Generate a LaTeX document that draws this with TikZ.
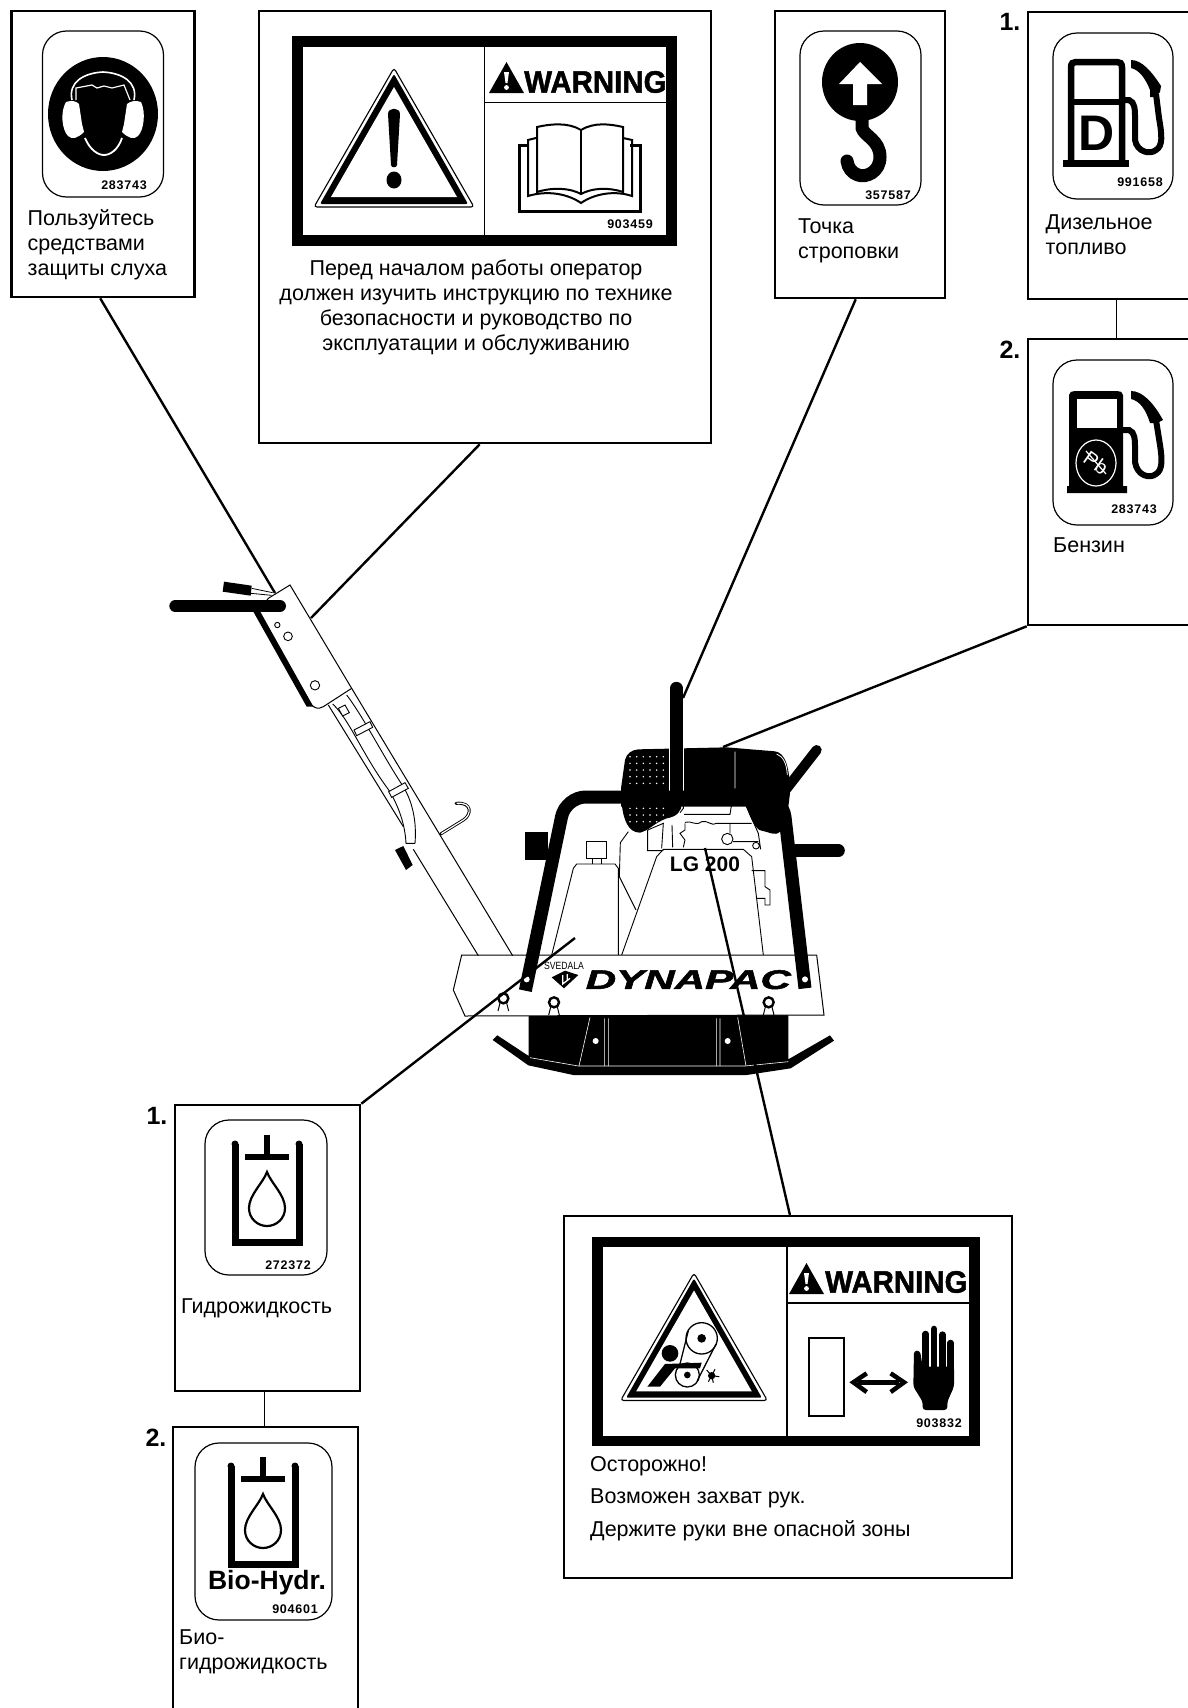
\documentclass[tikz,border=0pt]{standalone}
\usepackage{fontspec}
\setmainfont{Liberation Sans}
\newfontfamily\tagfont[LetterSpace=6]{Liberation Sans}
\newfontfamily\heavyfont[UprightFont=* Bold,ItalicFont=* Bold Italic,FakeBold=1.6]{Liberation Sans}
\usetikzlibrary{calc,positioning}
\tikzstyle{plate}=[draw,fill=white,line width=2.6pt,minimum size=10pt]
\tikzstyle{tagplate}=[draw,fill=white,line width=1.2pt,rounded corners=24pt]
\tikzstyle{warnframe}=[draw,fill=white,line width=11pt]
\tikzstyle{caption}=[inner sep=0pt,anchor=west,align=left,font=\fontsize{21.5}{25}\selectfont]
\tikzstyle{tagno}=[inner sep=0pt,font=\fontsize{12.5}{12.5}\selectfont\tagfont\bfseries]
\tikzstyle{mark no}=[inner sep=0pt,font=\fontsize{25}{25}\selectfont\bfseries]
\tikzstyle{warnword}=[inner sep=0pt,anchor=west,font=\fontsize{31}{31}\selectfont\heavyfont]
\tikzstyle{leader}=[line width=2.4pt]
\tikzstyle{tieline}=[line width=1.5pt]
\tikzstyle{thinline}=[line width=.9pt]

\begin{document}
\begin{tikzpicture}[x=1pt,y=-1pt,line join=miter]
\useasboundingbox (0,0) rectangle (1188,1708);

% plates
\node [plate,minimum width=183,minimum height=286] (hearing) at (103,154) {};
\node [plate,minimum width=452,minimum height=432] (manual) at (485,227) {};
\node [plate,minimum width=170,minimum height=287] (lifting) at (860,154.5) {};
\node [plate,minimum width=192,minimum height=287] (diesel) at (1124,155.5) {};
\node [plate,minimum width=192,minimum height=286] (petrol) at (1124,482) {};
\node [plate,minimum width=185,minimum height=286] (hydro) at (267.5,1248) {};
\node [plate,minimum width=185,minimum height=333] (biohydro) at (265.5,1593.5) {};
\node [plate,line width=2.2pt,minimum width=448,minimum height=362] (grip) at (788,1397) {};

% small labels
\node [tagplate,minimum width=121,minimum height=166] (hearingtag) at (103,114) {};
\node [tagplate,minimum width=121,minimum height=174] (liftingtag) at (860.5,118) {};
\node [tagplate,minimum width=120,minimum height=166] (dieseltag) at (1113,116) {};
\node [tagplate,minimum width=120,minimum height=165] (petroltag) at (1113,442.5) {};
\node [tagplate,minimum width=122,minimum height=155] (hydrotag) at (266,1197.5) {};
\node [tagplate,minimum width=137,minimum height=177] (biohydrotag) at (263.5,1531.5) {};

\node [tagno] (hearingno) at (124,185) {283743};
\node [tagno] (liftingno) at (888,195) {357587};
\node [tagno] (dieselno) at (1140,182) {991658};
\node [tagno] (petrolno) at (1134,509) {283743};
\node [tagno] (hydrono) at (288,1265) {272372};
\node [tagno] (biohydrono) at (295,1609.5) {904601};

% ear defenders
\fill (103,114) ellipse [x radius=55,y radius=57];
\fill [white] (66,102) .. controls (72,100) and (76,101) .. (79,104) -- (82,124) -- (84,132) .. controls (78,138) and (72,140) .. (68,136) .. controls (62,130) and (60,112) .. (66,102) -- cycle;
\fill [white] (141,102) .. controls (135,100) and (131,101) .. (127,104) -- (124,124) -- (122,132) .. controls (128,138) and (134,140) .. (138,136) .. controls (144,130) and (146,112) .. (141,102) -- cycle;
\draw [white,line width=1.6pt] (72,100) .. controls (68,82) and (84,73) .. (103,72) .. controls (122,73) and (138,82) .. (134,100);
\draw [white,line width=1.2pt] (76,100) -- (76,88) -- (92,85) -- (97,88) -- (104,86) -- (112,88) -- (124,85) -- (130,100);
\draw [white,line width=1.8pt] (85,138) .. controls (90,150) and (98,155) .. (104,155) .. controls (110,155) and (118,150) .. (122,138);

% lifting point
\fill (860,82) ellipse [x radius=38,y radius=39];
\fill [white] (860,62) -- (882,84) -- (867,84) -- (867,105) -- (853,105) -- (853,84) -- (839,84) -- cycle;
\draw [line width=13pt,line cap=round] (862,118) -- (862,128) .. controls (864,136) and (880,140) .. (880,157) .. controls (880,172) and (866,178) .. (858,175) .. controls (852,173) and (848,168) .. (847,161);

% diesel pump
\draw [line width=6.5pt] (1071,164) -- (1071,68) .. controls (1071,63) and (1073,62) .. (1076,62) -- (1117,62) .. controls (1120,62) and (1122,63) .. (1122,68) -- (1122,164);
\draw [line width=6pt] (1071,102) -- (1122,102);
\fill (1063,160) rectangle (1129,167);
\node [inner sep=0pt,font=\fontsize{50}{50}\selectfont\bfseries] (dieselsign) at (1097,133) {D};
\draw [line width=6pt] (1122,100) -- (1129,100) .. controls (1135,102) and (1135,110) .. (1135,118) -- (1135,140) .. controls (1137,152) and (1150,155) .. (1156,150) .. controls (1163,146) and (1162,135) .. (1159,118) -- (1156,94);
\fill (1131,60) .. controls (1142,60) and (1152,72) .. (1161,86) -- (1160,92) -- (1155,97) -- (1150,97) -- (1150,90) .. controls (1146,80) and (1140,70) .. (1131,68) -- cycle;

% petrol pump
\fill (1069,395) .. controls (1069,392) and (1072,391) .. (1075,391) -- (1117,391) .. controls (1120,391) and (1123,392) .. (1123,395) -- (1123,486) -- (1127,486) -- (1127,493) -- (1067,493) -- (1067,486) -- (1069,486) -- cycle;
\fill [white] (1077,399) rectangle (1117,428);
\draw [white,line width=1.2pt] (1096,463) ellipse [x radius=20,y radius=23];
\node [white,inner sep=0pt,rotate=-35,font=\fontsize{20}{20}\selectfont] (petrolsign) at (1096,463) {Pb};
\draw [white,line width=1.2pt] (1086,451) -- (1106,474);
\draw [line width=6pt] (1122,430) -- (1129,430) .. controls (1135,432) and (1135,440) .. (1135,448) -- (1135,462) .. controls (1137,476) and (1150,479) .. (1156,474) .. controls (1163,470) and (1162,458) .. (1160,445) -- (1156,420);
\fill (1131,391) .. controls (1142,391) and (1153,402) .. (1163,420) -- (1157,423) -- (1150,423) .. controls (1146,410) and (1140,401) .. (1131,399) -- cycle;

% hydraulic oil
\foreach \sx/\sy in {267/1135,263/1457}{
  \begin{scope}[shift={(\sx,\sy)}]
    \draw [line width=7pt] (-32,9) -- (-32,107) -- (32,107) -- (32,9);
    \fill (-32,9) circle [radius=3.5] (32,9) circle [radius=3.5];
    \draw [line width=6.5pt] (0,0) -- (0,22) (-22,22) -- (22,22);
    \draw [line width=2.2pt] (0,37) .. controls (4,48) and (18,60) .. (18,73) .. controls (18,84) and (9,91) .. (0,91) .. controls (-9,91) and (-18,84) .. (-18,73) .. controls (-18,60) and (-4,48) .. (0,37) -- cycle;
  \end{scope}
}
\node [inner sep=0pt,font=\fontsize{26.5}{26.5}\selectfont\bfseries] (biohydrosign) at (267,1583) {Bio-Hydr.};

% warning labels
\node [warnframe,minimum width=374,minimum height=199] (bookframe) at (484.5,141) {};
\node [warnframe,line width=10.5pt,minimum width=377,minimum height=199] (beltframe) at (786,1341.5) {};
\draw [thinline] (484.5,47) -- (484.5,235) (484.5,102) -- (667,102);
\draw [line width=1.2pt] (787,1247) -- (787,1436) (787,1303) -- (969,1303);
\foreach \sx/\sy/\sc in {394/68/1,694/1273/.917}{
  \begin{scope}[shift={(\sx,\sy)},scale=\sc]
    \draw [line width=1.1pt,rounded corners=3pt] (0,0) -- (-80,139) -- (80,139) -- cycle;
    \fill [rounded corners=2pt] (0,6) -- (-74,136) -- (74,136) -- cycle;
    \fill [white] (0,19) -- (-63,129) -- (63,129) -- cycle;
  \end{scope}
}
\foreach \sx/\sy/\wx in {489/62/528,789/1263/828}{
  \fill (\sx+17.5,\sy) -- (\sx,\sy+31) -- (\sx+35,\sy+31) -- cycle;
  \fill [white] (\sx+15,\sy+10) -- (\sx+20,\sy+10) -- (\sx+18.5,\sy+21) -- (\sx+16.5,\sy+21) -- cycle;
  \fill [white] (\sx+17.5,\sy+25.5) circle [radius=2.4];
}
\node [warnword] (bookword) at (524,82) {\scalebox{.95}[1]{WARNING}};
\node [warnword] (beltword) at (825,1282) {\scalebox{.95}[1]{WARNING}};
\node [tagno] (bookno) at (630,224) {903459};
\node [tagno] (beltno) at (939,1423) {903832};

% exclamation mark and book
\fill (388,114) .. controls (388,107) and (400,107) .. (400,114) -- (397,165) .. controls (397,168) and (391,168) .. (391,165) -- cycle;
\fill (394,180) ellipse [x radius=7.5,y radius=8.5];
\draw [line width=3pt] (528,145) -- (519,145) -- (519,211) -- (640,211) -- (640,145) -- (630,145);
\draw [line width=2pt] (536,138) -- (528,140) -- (528,196) .. controls (548,190) and (568,194) .. (581,203) .. controls (594,194) and (614,190) .. (632,196) -- (632,140) -- (623,138);
\draw [line width=2pt,fill=white] (581,130) .. controls (568,122) and (550,124) .. (537,127) -- (537,192) .. controls (553,187) and (570,188) .. (581,194) .. controls (592,188) and (608,187) .. (623,192) -- (623,127) .. controls (610,124) and (594,122) .. (581,130) -- cycle;
\draw [line width=2pt] (581,130) -- (581,194);

% belt and hand
\begin{scope}[shift={(560,1210)},scale=1/3]
  \draw [line width=1.3pt] (425,385) circle [radius=47];
  \fill (425,385) circle [radius=13];
  \draw [line width=1.3pt] (382,495) circle [radius=36];
  \fill (382,495) circle [radius=10];
  \fill (330,430) circle [radius=25];
  \draw [line width=1.3pt] (385,362) -- (358,470) (468,402) -- (412,512);
  \fill (262,530) -- (315,462) -- (425,458) -- (420,475) -- (345,475) -- (300,530) -- cycle;
  \fill (455,497) circle [radius=11];
  \draw [line width=1pt] (455,497) -- (440,480) (455,497) -- (445,515) (455,497) -- (460,518) (455,497) -- (478,500) (455,497) -- (465,478);
  \draw [line width=1.8pt] (748,385) rectangle (852,618);
  \draw [line width=4.5pt] (895,517) -- (1018,517);
  \draw [line width=4.5pt] (920,490) -- (880,517) -- (920,546) (992,490) -- (1032,517) -- (992,546);
  \fill [rounded corners=3pt] (1062,422) -- (1080,422) -- (1088,470) -- (1182,470) -- (1182,530) -- (1162,575) -- (1162,600) -- (1088,600) -- (1088,575) -- (1060,530) -- cycle;
  \draw [line width=6.6pt,line cap=round] (1097,475) -- (1097,372) (1122,475) -- (1122,357) (1147,475) -- (1147,374) (1172,475) -- (1172,399);
\end{scope}

% machine
\begin{scope}[shift={(450,660)},scale=1/3]
  \fill (225,517) rectangle (295,600);
  \draw [line width=13pt,line cap=round] (1040,572) -- (1165,572);
  \draw [line width=10pt,line cap=round] (995,405) -- (1100,270);
  % tank
  \fill (513,385) -- (525,300) .. controls (530,280) and (545,270) .. (565,268) -- (830,262) -- (975,274) .. controls (1005,278) and (1020,320) .. (1020,400) -- (1015,440) -- (513,440) -- cycle;
  \fill (515,430) .. controls (520,480) and (535,518) .. (570,518) .. controls (600,510) and (610,490) .. (650,475) .. controls (680,470) and (695,455) .. (695,430) -- cycle;
  \fill (885,430) .. controls (900,470) and (915,510) .. (935,512) .. controls (955,515) and (975,530) .. (990,515) -- (990,430) -- cycle;
  \foreach \dx in {540,560,...,640}{
    \foreach \dy in {290,310,...,380}{
      \fill [white] (\dx,\dy) circle [radius=2.5];
    }
    \foreach \dy in {445,465,485}{
      \fill [white] (\dx,\dy) circle [radius=2.5];
    }
  }
  \draw [white,line width=.8pt] (855,275) -- (855,385) (980,282) .. controls (1000,290) and (1010,310) .. (1012,345);
  % engine
  \begin{scope}[line width=.9pt]
    \draw (535,515) -- (511,548) -- (508,650) -- (558,750);
    \draw (593,510) -- (593,572) -- (640,572) (593,510) -- (640,490) -- (635,565) (666,495) -- (668,562);
    \draw (702,463) -- (840,463) -- (845,432) (700,435) -- (700,445) -- (690,458);
    \draw (705,490) -- (705,510) -- (690,520) -- (705,540) -- (700,562);
    \draw (705,487) .. controls (725,480) and (735,500) .. (755,485) .. controls (775,480) and (785,500) .. (800,490) -- (905,490);
    \draw (832,537) circle [radius=17] (840,490) -- (840,520) (849,545) -- (925,545);
    \draw (918,557) circle [radius=10] (885,430) -- (925,520) -- (932,568);
    \draw (905,632) -- (945,632) -- (945,680) -- (960,690) -- (960,735) -- (945,735) -- (945,715) -- (920,715);
    % fuel tank
    \draw (305,885) -- (370,625) -- (380,612) -- (495,612) -- (505,625) -- (505,885);
    \draw (410,543) rectangle (468,595) (428,595) -- (428,612) (455,595) -- (455,612);
    % engine cover
    \draw (515,885) -- (620,590) -- (640,568) -- (880,568) -- (905,590) -- (940,885);
  \end{scope}
  % lifting handle
  \draw [white,line width=15pt,line cap=round] (679,85) -- (679,392);
  \draw [line width=13pt,line cap=round] (679,85) -- (679,392);
  % base and runner
  \fill (128,1140) -- (142,1126) -- (236,1188) -- (236,1060) -- (1015,1060) -- (1015,1198) -- (1140,1126) -- (1152,1142) -- (1022,1225) -- (890,1245) -- (370,1245) -- (235,1216) -- cycle;
  \draw [white,line width=.6pt] (240,1193) -- (385,1218) -- (885,1218) -- (1015,1205);
  \draw [white,line width=.6pt] (420,1072) -- (387,1218) (463,1075) -- (463,1218) (475,1075) -- (475,1218);
  \draw [white,line width=.6pt] (800,1075) -- (800,1218) (810,1075) -- (810,1218) (863,1072) -- (888,1218);
  \foreach \dx in {437,833}{
    \fill [white] (\dx,1143) circle [radius=9];
  }
  % deck
  \draw [fill=white,line width=1pt] (35,885) -- (1100,885) -- (1122,1065) -- (45,1068) -- (10,990) -- cycle;
  \foreach \dx/\dy in {160/1015,312/1027,956/1027}{
    \draw [line width=1pt] (\dx-9,\dy+10) -- (\dx-16,\dy+38) (\dx+9,\dy+10) -- (\dx+16,\dy+38);
    \draw [line width=2.4pt,fill=white] (\dx,\dy) circle [radius=15];
  }
  % roll bar
  \draw [line width=13pt,rounded corners=20pt] (226,992) -- (347,411) -- (998,411) -- (1065,985);
  \foreach \dx/\dy in {230/958,1065/958}{
    \fill [white] (\dx,\dy) circle [radius=9];
  }
  % brand
  \node [inner sep=0pt,font=\fontsize{21}{21}\selectfont\bfseries] (model) at (765,612) {LG 200};
  \node [inner sep=0pt,font=\fontsize{10.5}{10.5}\selectfont] (maker) at (342,919) {\scalebox{.82}[1]{SVEDALA}};
  \fill (305,952) -- (345,932) -- (385,945) -- (342,985) -- cycle;
  \draw [white,line width=1.3pt] (338,945) -- (338,972) -- (360,955) (352,942) -- (352,960);
  \node [inner sep=0pt,font=\fontsize{27}{27}\selectfont\heavyfont\itshape] (brand) at (715,959) {\scalebox{1.56}[1]{DYNAPAC}};
\end{scope}

% guide handle
\begin{scope}[shift={(150,560)},scale=1/3]
  \draw [line width=1pt] (605,385) -- (1088,1187) (535,435) -- (760,800) (790,868) -- (985,1187);
  \draw [line width=.9pt] (590,405) .. controls (640,470) and (700,590) .. (760,680) .. controls (790,730) and (800,790) .. (795,850);
  \draw [line width=.9pt] (548,432) .. controls (600,480) and (640,590) .. (720,695) .. controls (745,740) and (765,790) .. (768,850) -- (795,850);
  \draw [line width=.9pt,fill=white] (612,510) -- (660,485) -- (668,502) -- (620,527) -- cycle;
  \draw [line width=.9pt,fill=white] (716,695) -- (765,668) -- (775,685) -- (725,712) -- cycle;
  \draw [line width=.9pt,fill=white] (565,445) -- (585,435) -- (598,458) -- (578,468) -- cycle;
  \fill (735,870) -- (760,858) -- (788,915) -- (768,930) -- cycle;
  \draw [line width=3pt,line cap=round] (872,822) -- (940,780) .. controls (965,765) and (968,725) .. (918,730);
  \draw [white,line width=1.2pt] (874,821) -- (940,780) .. controls (965,765) and (968,725) .. (920,730);
  \draw [line width=1pt,fill=white] (420,75) -- (605,385) -- (520,440) .. controls (505,448) and (495,445) .. (485,435) -- (325,155) -- (355,115) -- cycle;
  \fill (310,155) -- (328,150) -- (490,440) -- (470,440) -- cycle;
  \foreach \dx/\dy/\dr in {382/195/8,414/229/13,495/376/14}{
    \draw [line width=.9pt] (\dx,\dy) circle [radius=\dr];
  }
  \fill (222,65) -- (305,77) -- (302,107) -- (218,95) -- cycle;
  \draw [line width=.8pt] (305,85) -- (368,98) (303,100) -- (365,106);
  \draw [line width=12pt,line cap=round] (76,138) -- (390,138);
\end{scope}

% captions
\node [caption] (hearingtext) at (27.5,245) {Пользуйтесь\\средствами\\защиты слуха};
\node [caption,anchor=center,align=center] (manualtext) at (476,307.5) {Перед началом работы оператор\\должен изучить инструкцию по технике\\безопасности и руководство по\\эксплуатации и обслуживанию};
\node [caption] (liftingtext) at (798,241) {Точка\\строповки};
\node [caption] (dieseltext) at (1045.5,234.5) {Дизельное\\топливо};
\node [caption] (petroltext) at (1053,545) {Бензин};
\node [caption] (hydrotext) at (181,1308.5) {Гидрожидкость};
\node [caption] (biohydrotext) at (179,1652) {Био-\\гидрожидкость};
\node [caption] (griptext1) at (590,1466) {Осторожно!};
\node [caption] (griptext2) at (590,1498) {Возможен захват рук.};
\node [caption] (griptext3) at (590,1530.5) {Держите руки вне опасной зоны};

% numbers
\node [mark no] (dieselmark) at (1010,22) {1.};
\node [mark no] (petrolmark) at (1010,350) {2.};
\node [mark no] (hydromark) at (157,1116) {1.};
\node [mark no] (biohydromark) at (156,1438) {2.};

% leaders
\coordinate (hearingtip) at (275,593);
\coordinate (manualtip) at (311,618);
\coordinate (liftingtip) at (683,698);
\coordinate (petroltip) at (723,747);
\coordinate (hydrotip) at (575,938);
\coordinate (griptip) at (705,848);
\draw [leader] ([xshift=90pt]hearing.south west) -- (hearingtip);
\draw [leader] ([xshift=222pt]manual.south west) -- (manualtip);
\draw [leader] ([xshift=82pt]lifting.south west) -- (liftingtip);
\draw [leader] (petrol.south west) -- (petroltip);
\draw [leader] (hydro.north east) -- (hydrotip);
\draw [leader] ([xshift=227pt]grip.north west) -- (griptip);
\draw [tieline] ([xshift=90pt]diesel.south west) -- ([xshift=90pt]petrol.north west);
\draw [tieline] ([xshift=91pt]hydro.south west) -- ([xshift=93pt]biohydro.north west);
\end{tikzpicture}
\end{document}
